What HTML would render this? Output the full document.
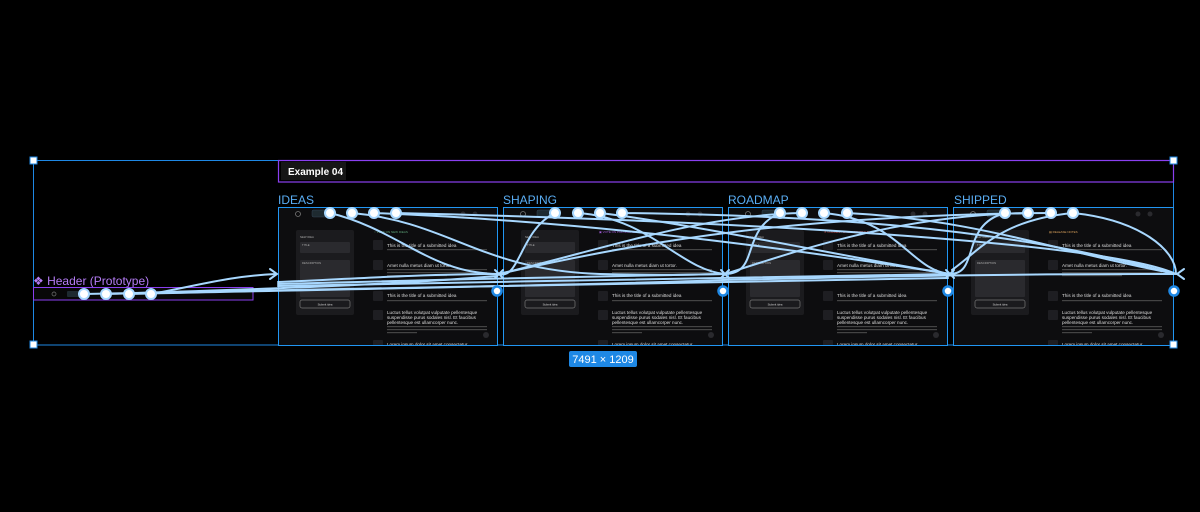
<!DOCTYPE html>
<html><head><meta charset="utf-8"><style>
html,body{margin:0;padding:0;background:#000;width:1200px;height:512px;overflow:hidden}
svg{display:block;font-family:"Liberation Sans",sans-serif}
</style></head><body>
<svg width="1200" height="512" viewBox="0 0 1200 512" xmlns="http://www.w3.org/2000/svg">
<defs>
<clipPath id="fc"><rect width="220" height="138"/></clipPath>
<g id="base">
<rect width="220" height="138" fill="#0d0d0f"/>
<circle cx="20" cy="7" r="2.5" fill="none" stroke="#777" stroke-width="0.8"/>
<rect x="34" y="3" width="18" height="7" rx="1.5" fill="#1e2a30" stroke="#345" stroke-width="0.5"/>
<circle cx="185" cy="7" r="2.5" fill="#2a2a2e"/><circle cx="197" cy="7" r="2.5" fill="#2a2a2e"/>
<rect x="18" y="23" width="58" height="85" rx="2" fill="#1b1b1e"/>
<rect x="22" y="35" width="50" height="11" rx="1" fill="#2a2a2e"/>
<rect x="22" y="53" width="50" height="37" rx="1" fill="#2a2a2e"/>
<rect x="22" y="93" width="50" height="8" rx="2" fill="none" stroke="#777" stroke-width="0.7"/>
<rect x="95" y="33" width="10" height="10" rx="1" fill="#1e1e22"/>
<rect x="95" y="53" width="10" height="10" rx="1" fill="#1e1e22"/>
<rect x="95" y="84" width="10" height="10" rx="1" fill="#1e1e22"/>
<rect x="95" y="103" width="10" height="10" rx="1" fill="#1e1e22"/>
<rect x="95" y="133" width="10" height="10" rx="1" fill="#1e1e22"/>
<rect x="109" y="42" width="100" height="1.2" fill="#444"/>
<rect x="109" y="62" width="100" height="1.2" fill="#444"/>
<rect x="109" y="65" width="100" height="1.2" fill="#444"/>
<rect x="109" y="68" width="60" height="1.2" fill="#444"/>
<rect x="109" y="93" width="100" height="1.2" fill="#444"/>
<rect x="109" y="119" width="100" height="1.2" fill="#444"/>
<rect x="109" y="122" width="100" height="1.2" fill="#444"/>
<rect x="109" y="125" width="30" height="1.2" fill="#444"/>
<circle cx="208" cy="128" r="3" fill="#2a2a2e"/>
<g fill="#ddd" font-size="4.6">
<text x="109" y="40">This is the title of a submitted idea</text>
<text x="109" y="60">Amet nulla metus diam ut tortor.</text>
<text x="109" y="90">This is the title of a submitted idea</text>
<text x="109" y="107">Luctus tellus volutpat vulputate pellentesque</text>
<text x="109" y="112">suspendisse purus sodales nisl. Et faucibus</text>
<text x="109" y="117">pellentesque est ullamcorper nunc.</text>
<text x="109" y="139">Lorem ipsum dolor sit amet consectetur</text>
</g>
<g fill="#aaa" font-size="2.8">
<text x="22" y="31">NEW IDEA</text>
<text x="24" y="39">TITLE</text>
<text x="24" y="57">DESCRIPTION</text>
<text x="47" y="98.5" text-anchor="middle" fill="#ddd">Submit idea</text>
</g>
</g>
</defs>

<!-- selection box -->
<rect x="33.5" y="160.5" width="1140" height="184.5" fill="none" stroke="#1e88e5" stroke-width="1"/>
<!-- frames -->
<g transform="translate(278,207)"><g clip-path="url(#fc)"><use href="#base"/><text x="96" y="26" font-size="3" fill="#5fa57a">○ VOTE ON NEW IDEAS</text></g></g>
<g transform="translate(503,207)"><g clip-path="url(#fc)"><use href="#base"/><text x="96" y="26" font-size="3" fill="#a15bd8">▣ VOTE ON POPULAR IDEAS</text></g></g>
<g transform="translate(728,207)"><g clip-path="url(#fc)"><use href="#base"/><text x="96" y="26" font-size="3" fill="#d85b5b">✕ CURRENT CYCLE ROADMAP</text></g></g>
<g transform="translate(953,207)"><g clip-path="url(#fc)"><use href="#base"/><text x="96" y="26" font-size="3" fill="#d8a05b">▤ RELEASE NOTES</text></g></g>
<g fill="none" stroke="#2196f3" stroke-width="1">
<rect x="278.5" y="207.5" width="219" height="138"/>
<rect x="503.5" y="207.5" width="219" height="138"/>
<rect x="728.5" y="207.5" width="219" height="138"/>
<rect x="953.5" y="207.5" width="220" height="138"/>
</g>
<g fill="#5aaef5" font-size="12">
<text x="278" y="204">IDEAS</text>
<text x="503" y="204">SHAPING</text>
<text x="728" y="204">ROADMAP</text>
<text x="954" y="204">SHIPPED</text>
</g>
<!-- Example 04 -->
<rect x="278.5" y="160.5" width="895" height="21.5" fill="none" stroke="#8a3ff0" stroke-width="1.2"/>
<rect x="281" y="162" width="65" height="18" fill="#161616"/>
<text x="288" y="175" font-size="10" font-weight="bold" fill="#fff">Example 04</text>
<!-- header instance -->
<text x="33" y="285" font-size="12" fill="#b57cf5">❖ Header (Prototype)</text>
<rect x="33.5" y="287.5" width="219.5" height="12.5" fill="#080808" stroke="#8a3ff0" stroke-width="1"/>
<circle cx="54" cy="294" r="2" fill="none" stroke="#777" stroke-width="0.7"/>
<rect x="67" y="291" width="14" height="6" rx="1" fill="#1e2a30"/>

<!-- connectors -->
<g fill="none" stroke="#a8d8ff" stroke-width="2" stroke-linecap="round">
<path d="M151 294 C200 285 230 276 276 274"/>
<path d="M129 294 C300 290 600 285 723 280 C900 276 1000 274 1174 274"/>
<path d="M106 294 C300 288 400 284 497 276"/>
<path d="M84 294 C300 290 800 280 948 278"/>
<path d="M330 213 C400 230 430 274 499 274"/>
<path d="M352 213 C450 222 480 270 600 274 C680 276 700 274 725 274"/>
<path d="M374 213 C600 222 800 250 950 274"/>
<path d="M396 213 C700 220 1100 240 1176 274"/>
<path d="M555 213 C520 230 520 280 499 274 C420 274 330 280 278 282"/>
<path d="M578 213 C650 218 680 270 725 274"/>
<path d="M600 213 C700 225 860 260 950 274"/>
<path d="M622 213 C800 215 1000 225 1174 274"/>
<path d="M780 213 C740 230 760 274 725 274 C600 276 420 280 278 284"/>
<path d="M802 213 C700 215 600 250 499 274"/>
<path d="M824 213 C900 220 910 270 950 274"/>
<path d="M847 213 C980 220 1050 250 1176 274"/>
<path d="M1005 213 C960 225 980 274 950 274 C800 276 500 282 278 286"/>
<path d="M1028 213 C900 215 800 250 725 274"/>
<path d="M1051 213 C800 215 650 240 499 274"/>
<path d="M1073 213 C1140 220 1176 250 1176 274"/>
<path d="M1073 213 C1000 220 980 250 952 270"/>
<path d="M270 269 L277 274 L270 279"/>
<path d="M1184 269 L1177 274 L1184 279"/>
<path d="M495 270 L503 278 M503 270 L495 278"/>
<path d="M721 270 L729 278 M729 270 L721 278"/>
<path d="M946 270 L954 278 M954 270 L946 278"/>
</g>
<g fill="#fff" stroke="#a8d8ff" stroke-width="2">
<circle cx="84" cy="294" r="5"/><circle cx="106" cy="294" r="5"/><circle cx="129" cy="294" r="5"/><circle cx="151" cy="294" r="5"/>
<circle cx="330" cy="213" r="5"/><circle cx="352" cy="213" r="5"/><circle cx="374" cy="213" r="5"/><circle cx="396" cy="213" r="5"/>
<circle cx="555" cy="213" r="5"/><circle cx="578" cy="213" r="5"/><circle cx="600" cy="213" r="5"/><circle cx="622" cy="213" r="5"/>
<circle cx="780" cy="213" r="5"/><circle cx="802" cy="213" r="5"/><circle cx="824" cy="213" r="5"/><circle cx="847" cy="213" r="5"/>
<circle cx="1005" cy="213" r="5"/><circle cx="1028" cy="213" r="5"/><circle cx="1051" cy="213" r="5"/><circle cx="1073" cy="213" r="5"/>
</g>
<g fill="#fff" stroke="#1e88e5" stroke-width="2.5">
<circle cx="497" cy="291" r="4.5"/><circle cx="723" cy="291" r="4.5"/><circle cx="948" cy="291" r="4.5"/><circle cx="1174" cy="291" r="4.5"/>
</g>
<!-- selection handles -->
<g fill="#fff" stroke="#1e88e5" stroke-width="1">
<rect x="30" y="157" width="7" height="7"/><rect x="1170" y="157" width="7" height="7"/>
<rect x="30" y="341" width="7" height="7"/><rect x="1170" y="341" width="7" height="7"/>
</g>
<rect x="569" y="351" width="68" height="16" rx="2" fill="#1e88e5"/>
<text x="603" y="363" font-size="11" fill="#fff" text-anchor="middle">7491 × 1209</text>
</svg>
</body></html>
